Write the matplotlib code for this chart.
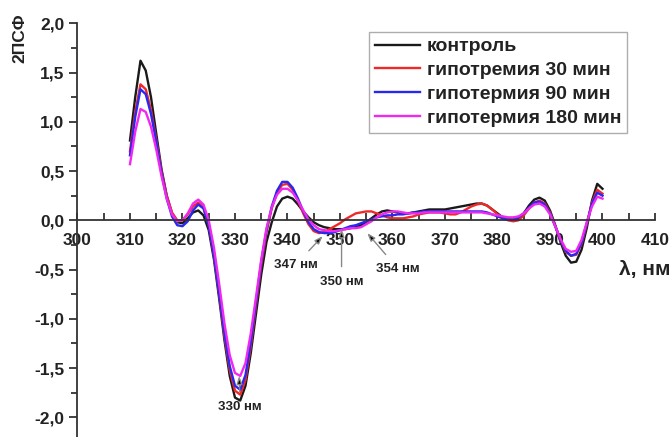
import numpy as np
from matplotlib import pyplot as plt
from matplotlib.ticker import MultipleLocator, FuncFormatter

plt.rcParams['font.family'] = ['Liberation Sans', 'DejaVu Sans']

# wavelength, nm
wl = np.arange(310, 401, 1)

control = [0.81, 1.25, 1.62, 1.52, 1.25, 0.88, 0.52, 0.25, 0.07, -0.02,
           -0.03, 0.02, 0.08, 0.10, 0.05, -0.10, -0.40, -0.80, -1.22, -1.58,
           -1.80, -1.83, -1.68, -1.35, -0.95, -0.55, -0.22, -0.02, 0.14, 0.22,
           0.24, 0.22, 0.16, 0.09, 0.03, -0.02, -0.05, -0.07, -0.08, -0.09,
           -0.09, -0.09, -0.08, -0.07, -0.05, -0.02, 0.02, 0.06, 0.09, 0.10,
           0.09, 0.08, 0.07, 0.07, 0.08, 0.09, 0.10, 0.11, 0.11, 0.11,
           0.11, 0.12, 0.13, 0.14, 0.15, 0.16, 0.17, 0.17, 0.15, 0.11,
           0.07, 0.03, 0.01, 0.00, 0.02, 0.07, 0.15, 0.21, 0.23, 0.20,
           0.10, -0.05, -0.22, -0.36, -0.43, -0.42, -0.30, -0.08, 0.20, 0.37,
           0.32]

hypo30 = [0.70, 1.10, 1.38, 1.33, 1.12, 0.82, 0.50, 0.25, 0.08, 0.00,
          0.00, 0.06, 0.14, 0.18, 0.13, -0.05, -0.36, -0.76, -1.18, -1.52,
          -1.73, -1.77, -1.62, -1.28, -0.86, -0.45, -0.12, 0.12, 0.28, 0.36,
          0.37, 0.31, 0.20, 0.07, -0.04, -0.11, -0.13, -0.12, -0.09, -0.06,
          -0.03, 0.01, 0.04, 0.07, 0.08, 0.09, 0.09, 0.07, 0.05, 0.03,
          0.02, 0.02, 0.02, 0.03, 0.04, 0.06, 0.07, 0.08, 0.08, 0.08,
          0.07, 0.06, 0.06, 0.08, 0.11, 0.14, 0.16, 0.17, 0.15, 0.11,
          0.06, 0.02, 0.00, -0.01, 0.00, 0.05, 0.12, 0.18, 0.20, 0.17,
          0.08, -0.06, -0.20, -0.32, -0.36, -0.35, -0.24, -0.04, 0.18, 0.31,
          0.27]

hypo90 = [0.66, 1.05, 1.33, 1.28, 1.08, 0.80, 0.48, 0.22, 0.04, -0.05,
          -0.06, -0.01, 0.10, 0.16, 0.12, -0.05, -0.36, -0.75, -1.15, -1.48,
          -1.68, -1.72, -1.57, -1.24, -0.83, -0.42, -0.10, 0.14, 0.30, 0.39,
          0.39, 0.33, 0.22, 0.09, -0.02, -0.09, -0.12, -0.13, -0.13, -0.12,
          -0.10, -0.08, -0.06, -0.05, -0.03, -0.01, 0.01, 0.03, 0.04, 0.05,
          0.05, 0.06, 0.06, 0.07, 0.08, 0.08, 0.09, 0.09, 0.09, 0.09,
          0.09, 0.09, 0.09, 0.09, 0.09, 0.09, 0.09, 0.09, 0.08, 0.06,
          0.04, 0.02, 0.01, 0.01, 0.03, 0.07, 0.13, 0.18, 0.19, 0.16,
          0.07, -0.06, -0.20, -0.31, -0.36, -0.34, -0.23, -0.03, 0.17, 0.28,
          0.25]

hypo180 = [0.57, 0.90, 1.13, 1.10, 0.95, 0.72, 0.45, 0.22, 0.06, -0.01,
           0.00, 0.07, 0.17, 0.21, 0.16, 0.00, -0.28, -0.65, -1.05, -1.37,
           -1.55, -1.58, -1.45, -1.15, -0.78, -0.40, -0.08, 0.13, 0.26, 0.32,
           0.32, 0.28, 0.20, 0.10, 0.01, -0.05, -0.09, -0.10, -0.11, -0.11,
           -0.10, -0.09, -0.08, -0.08, -0.07, -0.04, -0.01, 0.03, 0.06, 0.08,
           0.09, 0.09, 0.08, 0.07, 0.07, 0.07, 0.08, 0.08, 0.08, 0.08,
           0.08, 0.08, 0.08, 0.08, 0.08, 0.08, 0.08, 0.08, 0.07, 0.06,
           0.05, 0.04, 0.03, 0.03, 0.04, 0.07, 0.12, 0.16, 0.17, 0.14,
           0.06, -0.06, -0.19, -0.29, -0.32, -0.31, -0.20, -0.02, 0.14, 0.24,
           0.22]

labels = ['контроль', 'гипотремия 30 мин', 'гипотермия 90 мин', 'гипотермия 180 мин']
colors = ['#1a1a1a', '#f02828', '#2828f0', '#f028f0']

# annotations: text, arrow tip (x, y), text position (x, y)
notes = [('330 нм', (330.8, -1.58), (331.0, -1.90)),
         ('347 нм', (346.7, -0.16), (341.6, -0.45)),
         ('350 нм', (350.3, -0.09), (350.3, -0.63)),
         ('354 нм', (355.2, -0.13), (361.0, -0.49))]

fig = plt.figure(figsize=(6.72, 4.37), dpi=100)
ax = fig.add_axes([0.1153, 0.0, 0.8594, 0.9467])

for ys, lab, c in zip([control, hypo30, hypo90, hypo180], labels, colors):
    ax.plot(wl, ys, color=c, lw=1.7, label=lab)

ax.set_xlim(300, 410)
ax.set_ylim(-2.2, 2.0)

ax.spines['left'].set_position(('data', 300))
ax.spines['bottom'].set_position(('data', 0))
ax.spines['top'].set_visible(False)
ax.spines['right'].set_visible(False)
for s in ['left', 'bottom']:
    ax.spines[s].set_color('#333333')
    ax.spines[s].set_linewidth(1.3)

ax.xaxis.set_major_locator(MultipleLocator(10))
ax.xaxis.set_minor_locator(MultipleLocator(5))
ax.yaxis.set_major_locator(MultipleLocator(0.5))
ax.yaxis.set_minor_locator(MultipleLocator(0.25))
ax.yaxis.set_major_formatter(FuncFormatter(lambda v, p: ('%.1f' % v).replace('.', ',')))

ax.tick_params(axis='x', which='both', direction='in', length=5, width=1.3,
               color='#333333', pad=9, labelsize=12.5)
ax.tick_params(axis='y', which='major', direction='out', length=6, width=1.3,
               color='#333333', labelsize=12.5)
ax.tick_params(axis='y', which='minor', direction='out', length=4, width=1.3,
               color='#333333')
for t in ax.get_xticklabels() + ax.get_yticklabels():
    t.set_fontweight('bold')
    t.set_color('#222222')

fig.text(0.030, 0.913, '2ПСФ', rotation=90, ha='center', va='center',
         fontsize=12.5, fontweight='bold', color='#222222')
ax.text(403.1, -0.50, 'λ, нм', ha='left', va='center', fontsize=15,
        fontweight='bold', color='#222222', clip_on=False)

for txt, tip, pos in notes:
    ax.annotate(txt, xy=tip, xytext=pos, ha='center', va='center',
                fontsize=9.5, fontweight='bold', color='#222222',
                arrowprops=dict(arrowstyle='-|>,head_length=0.5,head_width=0.18',
                                fc='black', ec='#888888', lw=1,
                                shrinkA=5, shrinkB=0))

leg = ax.legend(loc='upper right', bbox_to_anchor=(0.9515, 0.979), borderaxespad=0,
                prop={'weight': 'bold', 'size': 14}, frameon=True, fancybox=False,
                handlelength=2.3, borderpad=0.3, labelspacing=0.32,
                handletextpad=0.35)
leg.get_frame().set_edgecolor('#999999')
leg.get_frame().set_linewidth(1)
for t in leg.get_texts():
    t.set_color('#222222')

fig.savefig('out.png', dpi=100)
